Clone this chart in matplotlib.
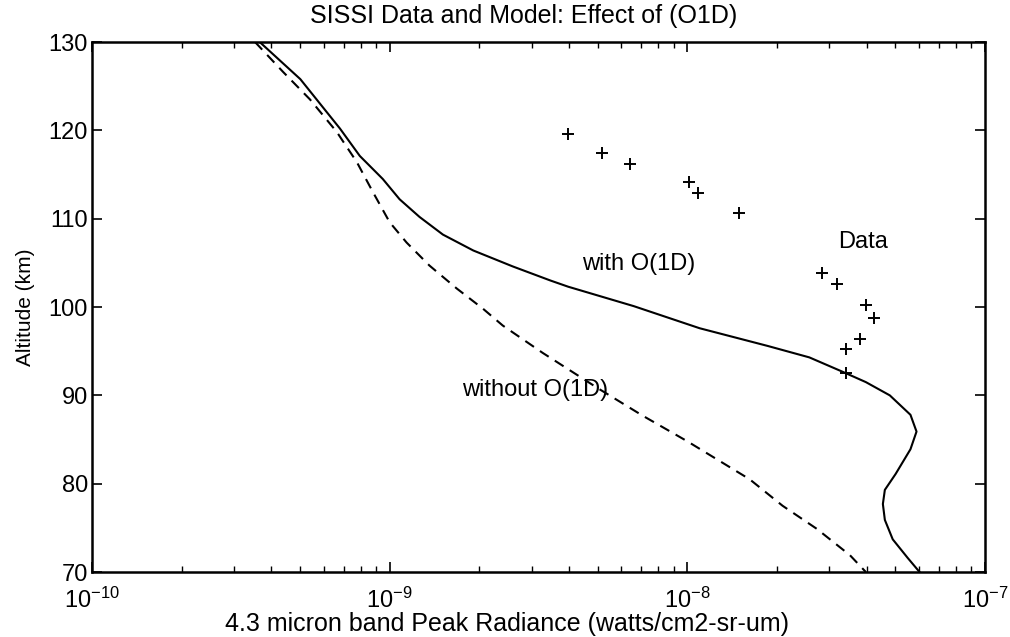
import matplotlib
matplotlib.use("Agg")
import matplotlib.pyplot as plt
from matplotlib.ticker import LogLocator, NullFormatter, FixedLocator

plt.rcParams['font.family'] = ['Liberation Sans', 'DejaVu Sans']
plt.rcParams['mathtext.fontset'] = 'custom'
plt.rcParams['mathtext.rm'] = 'Liberation Sans'
plt.rcParams['mathtext.it'] = 'Liberation Sans'
plt.rcParams['mathtext.default'] = 'regular'

# Model with O(1D): radiance (W/cm2-sr-um) vs altitude (km)
with_rad = [3.66e-10, 5.01e-10, 6.81e-10, 7.94e-10, 9.48e-10, 1.08e-9, 1.26e-9,
            1.51e-9, 1.91e-9, 2.59e-9, 3.47e-9, 3.98e-9, 6.61e-9, 1.10e-8,
            1.86e-8, 2.57e-8, 3.31e-8, 3.98e-8, 4.79e-8, 5.62e-8, 5.89e-8,
            5.62e-8, 5.01e-8, 4.61e-8, 4.54e-8, 4.61e-8, 4.90e-8, 5.50e-8, 6.03e-8]
with_alt = [130.0, 125.8, 120.2, 117.1, 114.5, 112.2, 110.2, 108.2, 106.4,
            104.6, 103.0, 102.3, 100.1, 97.6, 95.6, 94.3, 92.7, 91.5, 90.0,
            87.8, 85.9, 83.9, 81.1, 79.3, 77.7, 75.9, 73.7, 71.6, 70.0]

# Model without O(1D)
without_rad = [3.53e-10, 4.39e-10, 5.40e-10, 6.65e-10, 7.76e-10, 8.79e-10,
               1.00e-9, 1.14e-9, 1.36e-9, 1.68e-9, 2.06e-9, 2.40e-9, 3.27e-9,
               5.01e-9, 7.08e-9, 1.00e-8, 1.62e-8, 2.09e-8, 2.72e-8, 3.52e-8,
               3.98e-8]
without_alt = [130.0, 126.6, 123.5, 119.8, 116.4, 113.0, 109.6, 107.3, 104.7,
               102.1, 99.8, 97.9, 94.8, 90.8, 87.7, 84.8, 80.5, 77.5, 74.9,
               71.9, 70.0]

# SISSI data points
data_rad = [3.97e-9, 5.16e-9, 6.41e-9, 1.01e-8, 1.09e-8, 1.49e-8, 2.83e-8,
            3.18e-8, 3.98e-8, 4.24e-8, 3.80e-8, 3.41e-8, 3.41e-8]
data_alt = [119.6, 117.4, 116.2, 114.1, 112.9, 110.6, 103.8, 102.6, 100.2,
            98.8, 96.4, 95.2, 92.5]

x_major = [1e-10, 1e-9, 1e-8, 1e-7]
x_major_labels = [r'$10^{-10}$', r'$10^{-9}$', r'$10^{-8}$', r'$10^{-7}$']
y_ticks = [70, 80, 90, 100, 110, 120, 130]

fig = plt.figure(figsize=(10.10, 6.37), dpi=100)
ax = fig.add_axes([0.0911, 0.102, 0.8841, 0.832])

ax.plot(with_rad, with_alt, color='black', lw=1.5)
ax.plot(without_rad, without_alt, color='black', lw=1.5, dashes=(5, 3.5))
ax.plot(data_rad, data_alt, linestyle='none', marker='+', color='black',
        markersize=9, mew=1.4)

ax.set_xscale('log')
ax.set_xlim(1e-10, 1e-7)
ax.set_ylim(70, 130)
ax.xaxis.set_major_locator(FixedLocator(x_major))
ax.set_xticklabels(x_major_labels)
ax.xaxis.set_minor_locator(LogLocator(base=10, subs=range(2, 10)))
ax.xaxis.set_minor_formatter(NullFormatter())
ax.set_yticks(y_ticks)

fs = 18
ax.tick_params(axis='both', which='major', direction='in', length=7, width=1.2,
               top=True, right=True, labelsize=17, pad=3)
ax.tick_params(axis='x', which='major', pad=11)
ax.tick_params(axis='x', which='minor', direction='in', length=4, width=1.0,
               top=True, bottom=True)
for s in ax.spines.values():
    s.set_linewidth(1.8)

ax.set_title('SISSI Data and Model: Effect of (O1D)', fontsize=fs, pad=14,
             x=0.483)
ax.set_xlabel('4.3 micron band Peak Radiance (watts/cm2-sr-um)', fontsize=fs,
              labelpad=-1)
ax.xaxis.set_label_coords(0.465, -0.075)
ax.set_ylabel('Altitude (km)', fontsize=15, labelpad=10)

ax.text(4.43e-9, 104.9, 'with O(1D)', fontsize=17, va='center', ha='left')
ax.text(3.2e-8, 107.4, 'Data', fontsize=17, va='center', ha='left')
ax.text(1.75e-9, 90.6, 'without O(1D)', fontsize=17, va='center', ha='left')

fig.savefig('out.png', dpi=100)
